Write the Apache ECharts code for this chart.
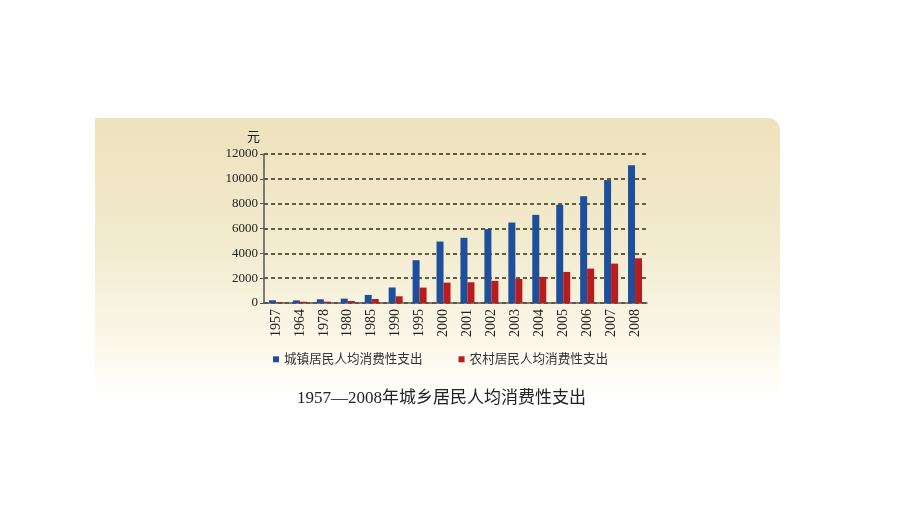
<!DOCTYPE html>
<html><head><meta charset="utf-8">
<script src="https://cdn.jsdelivr.net/npm/echarts@6/dist/echarts.min.js"></script>
<style>html,body{margin:0;padding:0;background:#fff}#c{width:920px;height:518px}</style>
</head><body><div id="c"></div>
<script>
const years = ['1957','1964','1978','1980','1985','1990','1995','2000','2001','2002','2003','2004','2005','2006','2007','2008'];
const urban = [220, 210, 300, 350, 650, 1250, 3450, 4950, 5250, 5950, 6480, 7100, 7900, 8600, 9900, 11100];
const rural = [70, 100, 110, 160, 320, 540, 1240, 1640, 1670, 1780, 1940, 2100, 2500, 2770, 3170, 3600];
const yTicks = [0, 2000, 4000, 6000, 8000, 10000, 12000];
const urbanName = '城镇居民人均消费性支出';
const ruralName = '农村居民人均消费性支出';
const titleText = '1957—2008年城乡居民人均消费性支出';
const unit = '元';

const font = '"Liberation Serif", "Noto Sans CJK SC", serif';
const chart = echarts.init(document.getElementById('c'));
chart.setOption({
  backgroundColor: '#ffffff',
  animation: false,
  graphic: [{
    type: 'rect', z: -10, silent: true,
    shape: {x: 95, y: 118, width: 685, height: 282, r: [0, 12, 0, 0]},
    style: {
      fill: new echarts.graphic.LinearGradient(0, 0, 0, 1, [
        {offset: 0, color: '#ede2bb'},
        {offset: 0.45, color: '#f3ebcf'},
        {offset: 0.8, color: '#fbf8ea'},
        {offset: 1, color: '#ffffff'}
      ])
    }
  }],
  title: {
    text: titleText, left: 292, top: 385,
    textStyle: {fontFamily: font, fontSize: 17, fontWeight: 'normal', color: '#222'}
  },
  legend: {
    top: 348, left: 268, itemGap: 36, itemWidth: 6, itemHeight: 6, icon: 'rect',
    textStyle: {fontFamily: font, fontSize: 12.6, color: '#333'},
    data: [urbanName, ruralName]
  },
  grid: {left: 264, right: 273, top: 154, bottom: 215, containLabel: false},
  xAxis: {
    type: 'category', data: years,
    axisLine: {lineStyle: {color: '#555', width: 1.5}},
    axisTick: {show: false},
    axisLabel: {rotate: 90, fontFamily: font, fontSize: 14, color: '#222', margin: 6, interval: 0}
  },
  yAxis: {
    type: 'value', min: yTicks[0], max: yTicks[yTicks.length - 1], interval: 2000,
    name: unit, nameLocation: 'end', nameGap: 10,
    nameTextStyle: {fontFamily: font, fontSize: 13, color: '#222', align: 'right', padding: [0, 4, 0, 0]},
    axisLine: {show: true, lineStyle: {color: '#555', width: 1.5}},
    axisTick: {show: true, length: 4, lineStyle: {color: '#555'}},
    axisLabel: {fontFamily: font, fontSize: 13, color: '#222', margin: 6, formatter: v => String(v)},
    splitLine: {show: true, lineStyle: {color: '#3a2c10', width: 1.5, type: [4, 3]}}
  },
  series: [
    {name: urbanName, type: 'bar', data: urban, barWidth: 7, barGap: '0%', itemStyle: {color: '#1d4f9c'}},
    {name: ruralName, type: 'bar', data: rural, barWidth: 7, barGap: '0%', itemStyle: {color: '#b81c1c'}}
  ]
});
</script></body></html>
